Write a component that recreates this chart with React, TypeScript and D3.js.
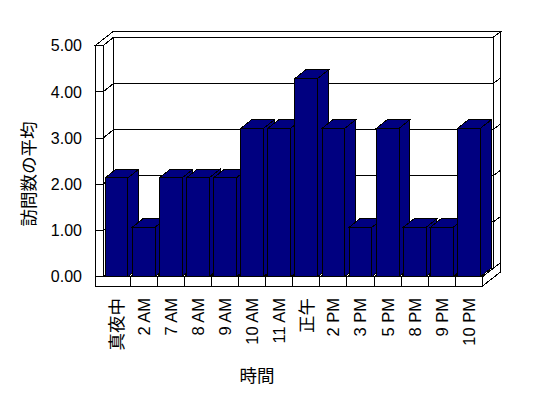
import React, { useEffect, useRef } from 'react';
import * as d3 from 'd3';

const categories = ['真夜中', '2 AM', '7 AM', '8 AM', '9 AM', '10 AM', '11 AM', '正午', '2 PM', '3 PM', '5 PM', '8 PM', '9 PM', '10 PM'];
const visits = [2.14, 1.07, 2.14, 2.14, 2.14, 3.21, 3.21, 4.29, 3.21, 1.07, 3.21, 1.07, 1.07, 3.21];
const yTicks = [0, 1, 2, 3, 4, 5];
const yTitle = '訪問数の平均';
const xTitle = '時間';

const latin = "'Liberation Sans', Arial, sans-serif";
const cjk = "'Noto Sans CJK JP', sans-serif";

function drawChart(node: SVGSVGElement) {
    const w = 548;
    const h = 398;
    const left = 103, right = 482.5, bottom = 276.7, top = 45.7;
    const wallW = 8, floorH = 9.3;
    // depth offsets: inner back plane and outer back plane
    const d1 = { dx: 10.8, dy: -8.6 };
    const d2 = { dx: 18, dy: -14 };

    const svg = d3.select(node).attr('width', w).attr('height', h);
    svg.selectAll('*').remove();

    const y = d3.scaleLinear().domain([0, 5]).range([bottom, top]);
    const x = d3.scaleBand<string>().domain(categories).range([left, right])
        .paddingInner(0.16).paddingOuter(0.08);
    const step = x.step();

    const shapes = svg.append('g').attr('shape-rendering', 'crispEdges');
    const line = d3.line();
    const poly = (pts: [number, number][], fill: string) =>
        shapes.append('path')
            .attr('d', line(pts) + 'Z')
            .attr('fill', fill)
            .attr('stroke', 'black')
            .attr('stroke-width', 1)
            .attr('stroke-linejoin', 'miter');
    const seg = (x1: number, y1: number, x2: number, y2: number) =>
        shapes.append('line')
            .attr('x1', x1).attr('y1', y1).attr('x2', x2).attr('y2', y2)
            .attr('stroke', 'black').attr('stroke-width', 1);

    const g0 = y(0), g5 = y(5);

    // top of walls
    poly([[left - wallW, g5], [left, g5], [left + d1.dx, g5 + d1.dy], [right + d1.dx, g5 + d1.dy],
        [right + d2.dx, g5 + d2.dy], [left - wallW + d2.dx, g5 + d2.dy]], 'white');
    // back wall face
    poly([[left + d1.dx, g5 + d1.dy], [right + d1.dx, g5 + d1.dy], [right + d1.dx, g0 + d1.dy], [left + d1.dx, g0 + d1.dy]], 'white');
    // left wall inner face
    poly([[left, g5], [left + d1.dx, g5 + d1.dy], [left + d1.dx, g0 + d1.dy], [left, g0]], 'white');
    // back wall right edge face
    poly([[right + d1.dx, g5 + d1.dy], [right + d2.dx, g5 + d2.dy], [right + d2.dx, g0 + d2.dy], [right + d1.dx, g0 + d1.dy]], 'white');
    // left wall front face
    poly([[left - wallW, g5], [left, g5], [left, g0 + floorH], [left - wallW, g0 + floorH]], 'white');

    // gridlines
    yTicks.forEach(v => {
        const yy = y(v);
        seg(left - wallW, yy, left, yy);
        seg(left, yy, left + d1.dx, yy + d1.dy);
        seg(left + d1.dx, yy + d1.dy, right + d1.dx, yy + d1.dy);
        seg(right + d1.dx, yy + d1.dy, right + d2.dx, yy + d2.dy);
    });

    // floor top
    poly([[left, g0], [right, g0], [right + d1.dx, g0 + d1.dy], [left + d1.dx, g0 + d1.dy]], 'white');
    d3.range(1, categories.length).forEach(i => {
        const xx = left + i * step;
        seg(xx, g0, xx + d1.dx, g0 + d1.dy);
    });

    // bars
    const barColor = '#000080';
    visits.forEach((v, i) => {
        const x0 = x(categories[i]) as number;
        const x1 = x0 + x.bandwidth();
        const yt = y(v);
        poly([[x1, yt], [x1 + d1.dx, yt + d1.dy], [x1 + d1.dx, g0 + d1.dy], [x1, g0]], barColor);
        poly([[x0, yt], [x1, yt], [x1 + d1.dx, yt + d1.dy], [x0 + d1.dx, yt + d1.dy]], barColor);
        poly([[x0, yt], [x1, yt], [x1, g0], [x0, g0]], barColor);
    });

    // floor front and right faces
    poly([[left - wallW, g0], [right, g0], [right, g0 + floorH], [left - wallW, g0 + floorH]], 'white');
    poly([[right, g0], [right + d2.dx, g0 + d2.dy], [right + d2.dx, g0 + floorH + d2.dy], [right, g0 + floorH]], 'white');
    seg(right, g0, right + d1.dx, g0 + d1.dy);
    d3.range(1, categories.length).forEach(i => {
        const xx = left + i * step;
        seg(xx, g0, xx, g0 + floorH);
    });

    // y tick labels
    svg.append('g').selectAll('text')
        .data(yTicks)
        .enter()
        .append('text')
        .attr('x', 82)
        .attr('y', d => y(d))
        .attr('dy', '0.36em')
        .attr('text-anchor', 'end')
        .attr('font-family', latin)
        .attr('font-size', 16)
        .text(d => d.toFixed(2));

    // x tick labels
    svg.append('g').selectAll('text')
        .data(categories)
        .enter()
        .append('text')
        .attr('transform', d => `translate(${(x(d) as number) + x.bandwidth() / 2},${298}) rotate(-90)`)
        .attr('dy', '0.36em')
        .attr('text-anchor', 'end')
        .attr('font-family', d => /[A-Z0-9]/.test(d) ? latin : cjk)
        .attr('font-size', d => /[A-Z0-9]/.test(d) ? 16.5 : 17.5)
        .text(d => d);

    // axis titles
    svg.append('text')
        .attr('transform', 'translate(29,174) rotate(-90)')
        .attr('text-anchor', 'middle')
        .attr('dy', '0.36em')
        .attr('font-family', cjk)
        .attr('font-size', 17.5)
        .text(yTitle);

    svg.append('text')
        .attr('x', 257)
        .attr('y', 376)
        .attr('text-anchor', 'middle')
        .attr('dy', '0.36em')
        .attr('font-family', cjk)
        .attr('font-size', 17.5)
        .text(xTitle);
}

export default function App() {
    const ref = useRef<SVGSVGElement>(null);

    useEffect(() => {
        if (ref.current) drawChart(ref.current);
    }, []);

    return (
        <div style={{ position: 'absolute', left: 0, top: 0 }}>
            <svg ref={ref} style={{ display: 'block', background: 'white' }} />
        </div>
    );
}
